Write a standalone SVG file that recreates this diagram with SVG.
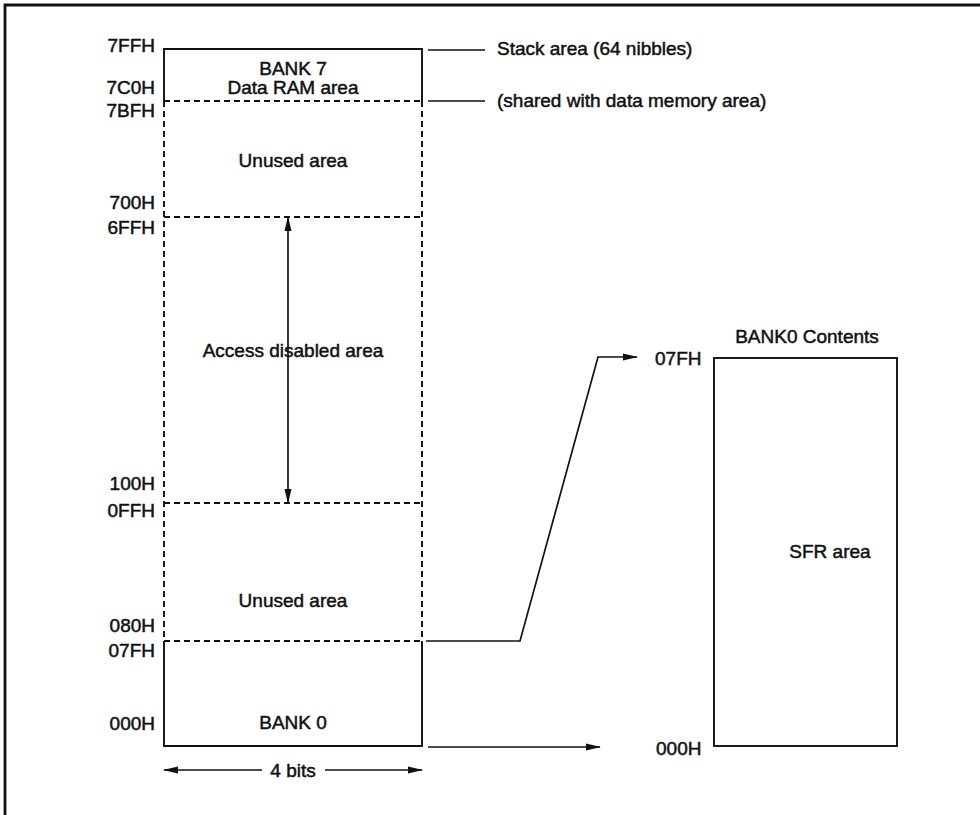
<svg xmlns="http://www.w3.org/2000/svg" width="980" height="815" viewBox="0 0 980 815">
<style>
text{font-family:"Liberation Sans",Arial,sans-serif;font-size:19px;fill:#111;stroke:#111;stroke-width:0.5}
.r{text-anchor:end}
.m{text-anchor:middle}
.s{fill:none;stroke:#111;stroke-width:1.9}
.d{fill:none;stroke:#111;stroke-width:1.9;stroke-dasharray:6 4}
.c{fill:none;stroke:#111;stroke-width:1.7}
</style>
<defs>
<marker id="ah" markerWidth="15" markerHeight="9" refX="14" refY="4.5" orient="auto-start-reverse" markerUnits="userSpaceOnUse">
<path d="M0,1 L15,4.5 L0,8 Z" fill="#111"/>
</marker>
</defs>
<rect width="980" height="815" fill="#fff"/>
<g id="frame">
<path d="M5,815 V5 H980" fill="none" stroke="#111" stroke-width="2.8"/>
</g>
<g id="memory-map">
<path class="s" d="M164,101 V49 H422 V101"/>
<path class="d" d="M164,101 H422 M164,217 H422 M164,503 H422 M164,641 H422 M164,101 V641 M422,101 V641"/>
<path class="s" d="M164,641 V746 H422 V641"/>
<text class="m" x="293" y="75">BANK 7</text>
<text class="m" x="293" y="94">Data RAM area</text>
<text class="m" x="293" y="167">Unused area</text>
<text class="m" x="293" y="357">Access disabled area</text>
<text class="m" x="293" y="607">Unused area</text>
<text class="m" x="293" y="729">BANK 0</text>
</g>
<g id="addresses">
<text class="r" x="155" y="52">7FFH</text>
<text class="r" x="155" y="94">7C0H</text>
<text class="r" x="155" y="117">7BFH</text>
<text class="r" x="155" y="209">700H</text>
<text class="r" x="155" y="234">6FFH</text>
<text class="r" x="155" y="490">100H</text>
<text class="r" x="155" y="517">0FFH</text>
<text class="r" x="155" y="632">080H</text>
<text class="r" x="155" y="657">07FH</text>
<text class="r" x="155" y="730">000H</text>
</g>
<g id="notes">
<text x="497" y="55">Stack area (64 nibbles)</text>
<text x="497" y="107">(shared with data memory area)</text>
</g>
<g id="bank0-contents">
<rect class="s" x="714" y="358" width="183" height="388"/>
<text class="m" x="807" y="343">BANK0 Contents</text>
<text class="m" x="830" y="558">SFR area</text>
<text x="655" y="365">07FH</text>
<text x="656" y="755">000H</text>
</g>
<g id="connectors">
<path class="c" d="M428,50 H485 M428,101 H485"/>
<path class="c" d="M288,217 V503" marker-start="url(#ah)" marker-end="url(#ah)"/>
<path class="c" d="M262,770 H164" marker-end="url(#ah)"/>
<path class="c" d="M325,770 H422" marker-end="url(#ah)"/>
<text class="m" x="293" y="777">4 bits</text>
<path class="c" d="M426,641 H520 L598,357 H637" marker-end="url(#ah)"/>
<path class="c" d="M428,747 H600" marker-end="url(#ah)"/>
</g>
</svg>
